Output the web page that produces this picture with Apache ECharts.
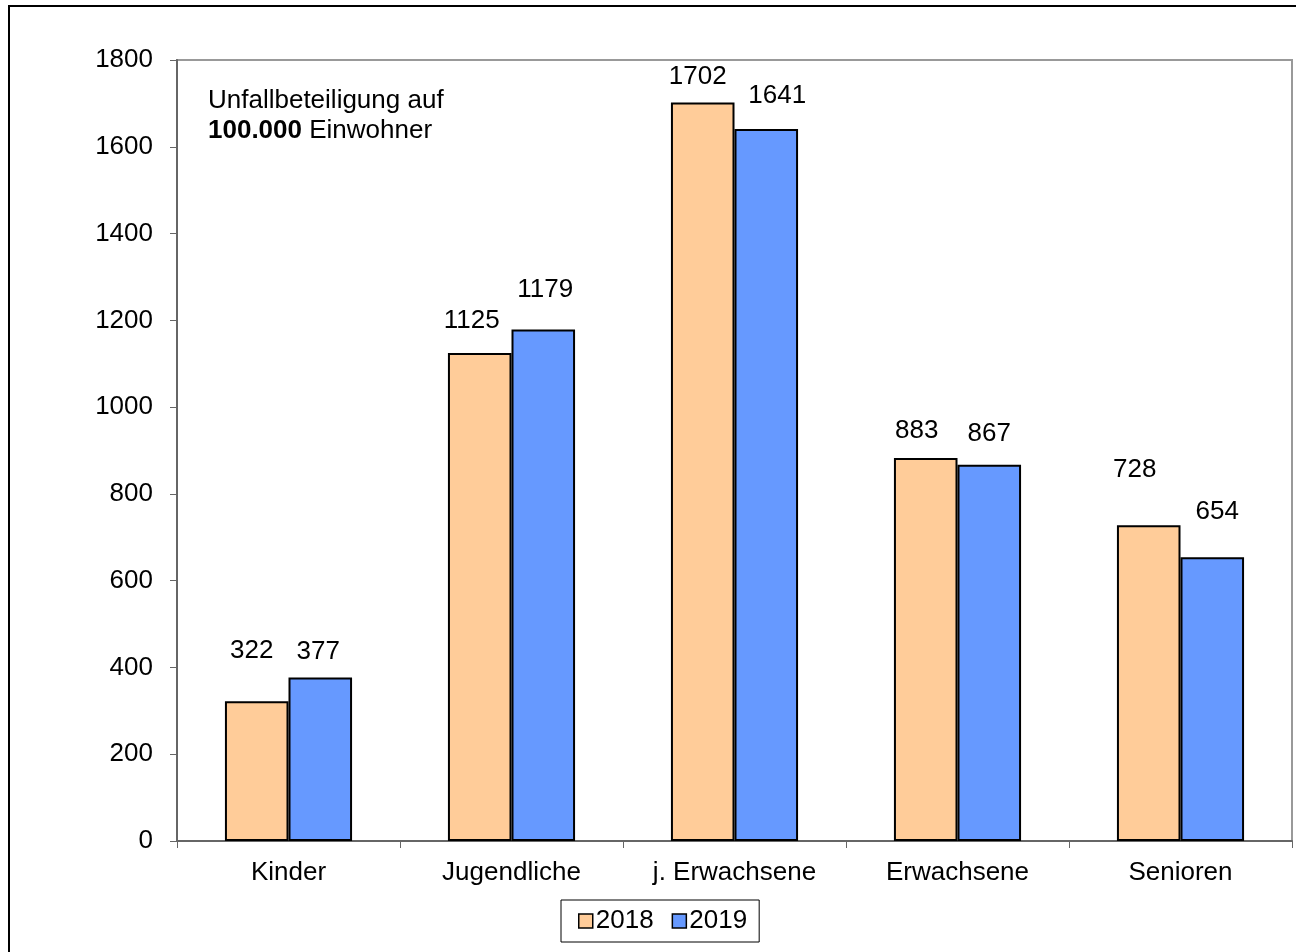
<!DOCTYPE html>
<html>
<head>
<meta charset="utf-8">
<script src="https://cdn.jsdelivr.net/npm/echarts@6/dist/echarts.min.js"></script>
<style>
  html, body { margin: 0; padding: 0; background: #fff; }
  #main { width: 1296px; height: 952px; }
</style>
</head>
<body>
<div id="main"></div>
<script>
var categories = ["Kinder", "Jugendliche", "j. Erwachsene", "Erwachsene", "Senioren"];
var values2018 = [322, 1125, 1702, 883, 728];
var values2019 = [377, 1179, 1641, 867, 654];
var seriesNames = ["2018", "2019"];

// label placement (Excel labels were moved by hand)
var lift2018 = [37, 19, 13, 14, 42];
var lift2019 = [13, 27, 20, 18, 32];
var shift2018 = [-5, -8, -5, -9, -14];
var shift2019 = [-2, 2, 11, 0, 5];

var font = "Liberation Sans, Arial, sans-serif";
var fs = 26;

function makeData(values, lift, shift) {
  return values.map(function (v, i) {
    return {
      value: v,
      label: { distance: lift[i], offset: [shift[i], 0] },
    };
  });
}

var myChart = echarts.init(document.getElementById("main"));
var option = {
  animation: false,
  backgroundColor: "#fff",
  textStyle: { fontFamily: font },
  grid: {
    left: 177,
    top: 60,
    right: 4,
    bottom: 111,
    show: true,
    borderColor: "#999",
    borderWidth: 2,
    containLabel: false,
  },
  legend: {
    data: seriesNames,
    bottom: 10,
    left: 561,
    itemWidth: 14,
    itemHeight: 14,
    itemGap: 18,
    padding: [8, 12, 8, 17],
    borderColor: "#000",
    borderWidth: 1,
    borderRadius: 0,
    icon: "rect",
    itemStyle: { borderColor: "#000", borderWidth: 1.5 },
    textStyle: { fontSize: fs, color: "#000", fontFamily: font, padding: [0, 0, 0, -2] },
  },
  xAxis: {
    type: "category",
    data: categories,
    axisLine: { lineStyle: { color: "#666", width: 2 } },
    axisTick: { show: true, length: 7, lineStyle: { color: "#666", width: 1 } },
    axisLabel: { fontSize: fs, color: "#000", margin: 19, fontFamily: font },
  },
  yAxis: {
    type: "value",
    min: 0,
    max: 1800,
    interval: 200,
    splitLine: { show: false },
    axisLine: { show: true, lineStyle: { color: "#666", width: 2 } },
    axisTick: { show: true, length: 7, lineStyle: { color: "#666", width: 1 } },
    axisLabel: {
      fontSize: fs,
      color: "#000",
      margin: 24,
      fontFamily: font,
      formatter: function (v) {
        return String(v);
      },
    },
  },
  graphic: [
    {
      type: "rect",
      shape: { x: 9, y: 6, width: 1400, height: 1100 },
      style: { fill: "none", stroke: "#000", lineWidth: 2 },
      silent: true,
    },
    {
      type: "text",
      left: 208,
      top: 86,
      style: {
        text: "Unfallbeteiligung auf\n{b|100.000} Einwohner",
        fontSize: fs,
        lineHeight: 30,
        fill: "#000",
        fontFamily: font,
        rich: {
          b: { fontSize: fs, fontWeight: "bold", fontFamily: font, fill: "#000" },
        },
      },
    },
  ],
  series: [
    {
      name: seriesNames[0],
      type: "bar",
      barGap: "0%",
      barCategoryGap: "43%",
      data: makeData(values2018, lift2018, shift2018),
      itemStyle: { color: "#FFCC99", borderColor: "#000", borderWidth: 2 },
      label: { show: true, position: "top", fontSize: fs, color: "#000", fontFamily: font },
    },
    {
      name: seriesNames[1],
      type: "bar",
      barGap: "0%",
      barCategoryGap: "43%",
      data: makeData(values2019, lift2019, shift2019),
      itemStyle: { color: "#6699FF", borderColor: "#000", borderWidth: 2 },
      label: { show: true, position: "top", fontSize: fs, color: "#000", fontFamily: font },
    },
  ],
};
myChart.setOption(option);
</script>
</body>
</html>
